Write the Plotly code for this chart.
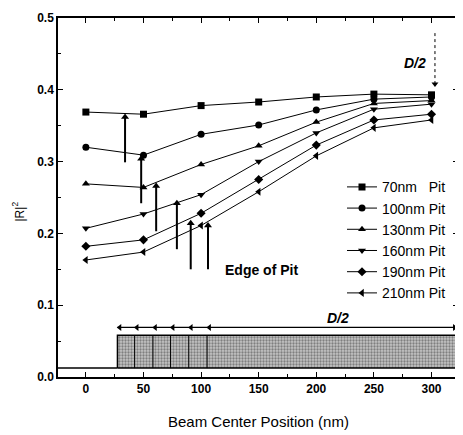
import plotly.graph_objects as go

# ---- data ----
positions = [0, 50, 100, 150, 200, 250, 300]
series_names = ["70nm\u00a0\u00a0\u00a0Pit", "100nm Pit", "130nm Pit", "160nm Pit", "190nm Pit", "210nm Pit"]
r70 = [0.369, 0.366, 0.378, 0.383, 0.390, 0.394, 0.393]
r100 = [0.320, 0.309, 0.338, 0.351, 0.372, 0.387, 0.390]
r130 = [0.269, 0.264, 0.296, 0.322, 0.355, 0.381, 0.385]
r160 = [0.207, 0.227, 0.254, 0.300, 0.340, 0.373, 0.380]
r190 = [0.182, 0.191, 0.228, 0.275, 0.323, 0.358, 0.366]
r210 = [0.163, 0.174, 0.211, 0.258, 0.308, 0.347, 0.358]
symbols = ["square", "circle", "triangle-up", "triangle-down", "diamond", "triangle-left"]

x_ticks = [0, 50, 100, 150, 200, 250, 300]
y_ticks = [0.0, 0.1, 0.2, 0.3, 0.4, 0.5]

# edge-of-pit arrows: x, tail y, head y
edge_x = [34, 48, 61, 79, 91, 106]
edge_tail = [0.299, 0.242, 0.203, 0.178, 0.150, 0.150]
edge_head = [0.362, 0.304, 0.266, 0.242, 0.214, 0.211]

# pit diagram
pit_edges = [27.4, 42.3, 58.2, 73.5, 89.3, 105.2]
pit_bottom = 0.0124
pit_top = 0.058
d2_arrow_y = 0.069
x_min, x_max = -24.2, 323

# top D/2 marker line
d2_top_x = 303
d2_top_y = [0.479, 0.408]

font_family = "Liberation Sans, Arial"

fig = go.Figure()

# pit rectangle
fig.add_trace(go.Scatter(
    x=[pit_edges[0], x_max, x_max, pit_edges[0], pit_edges[0]],
    y=[pit_bottom, pit_bottom, pit_top, pit_top, pit_bottom],
    mode="lines", fill="toself",
    fillcolor="#b0b0b0",
    fillpattern=dict(shape=".", fgcolor="#3a3a3a", bgcolor="#c4c4c4", size=3, solidity=0.45),
    line=dict(color="black", width=1.5), showlegend=False, hoverinfo="skip"))

all_series = [r70, r100, r130, r160, r190, r210]
for name, vals, sym in zip(series_names, all_series, symbols):
    fig.add_trace(go.Scatter(
        x=positions, y=vals, mode="lines+markers", name=name,
        line=dict(color="black", width=1),
        marker=dict(symbol=sym, size=7, color="black")))

# edge-of-pit arrows (shafts + heads)
ex, ey = [], []
for xe, yt, yh in zip(edge_x, edge_tail, edge_head):
    ex += [xe, xe, None]
    ey += [yt, yh, None]
fig.add_trace(go.Scatter(x=ex, y=ey, mode="lines", line=dict(color="black", width=2),
                         showlegend=False, hoverinfo="skip"))
fig.add_trace(go.Scatter(x=edge_x, y=edge_head, mode="markers",
                         marker=dict(symbol="triangle-up", size=7, color="black"),
                         showlegend=False, hoverinfo="skip"))

# D/2 bottom arrow line with heads
fig.add_trace(go.Scatter(x=[pit_edges[0], x_max], y=[d2_arrow_y, d2_arrow_y], mode="lines",
                         line=dict(color="black", width=1.2), showlegend=False, hoverinfo="skip"))
fig.add_trace(go.Scatter(x=[e + 2 for e in pit_edges], y=[d2_arrow_y] * len(pit_edges), mode="markers",
                         marker=dict(symbol="triangle-left", size=6, color="black"),
                         showlegend=False, hoverinfo="skip"))
fig.add_trace(go.Scatter(x=[x_max - 3], y=[d2_arrow_y], mode="markers",
                         marker=dict(symbol="triangle-right", size=6, color="black"),
                         showlegend=False, hoverinfo="skip"))

# top D/2 dotted line with head
fig.add_trace(go.Scatter(x=[d2_top_x, d2_top_x], y=d2_top_y, mode="lines",
                         line=dict(color="black", width=1, dash="dot"), showlegend=False, hoverinfo="skip"))
fig.add_trace(go.Scatter(x=[d2_top_x], y=[d2_top_y[1]], mode="markers",
                         marker=dict(symbol="triangle-down", size=6, color="black"),
                         showlegend=False, hoverinfo="skip"))

shapes = []
# baseline
shapes.append(dict(type="line", xref="x", yref="y", x0=x_min, x1=pit_edges[0],
                   y0=pit_bottom, y1=pit_bottom, line=dict(color="black", width=1.5)))
# dividers in pit
for e in pit_edges[1:]:
    shapes.append(dict(type="line", xref="x", yref="y", x0=e, x1=e, y0=pit_bottom, y1=pit_top,
                       line=dict(color="black", width=1)))

annotations = []
bold = dict(family=font_family, size=14, color="black", weight="bold")
annotations.append(dict(x=152, y=0.149, xref="x", yref="y", text="Edge of Pit", showarrow=False,
                        xanchor="center", yanchor="middle", font=bold))
annotations.append(dict(x=286, y=0.438, xref="x", yref="y", text="<i>D/2</i>", showarrow=False,
                        xanchor="center", yanchor="middle", font=bold))
annotations.append(dict(x=219, y=0.0815, xref="x", yref="y", text="<i>D/2</i>", showarrow=False,
                        xanchor="center", yanchor="middle", font=bold))
# axis titles
annotations.append(dict(x=-0.100, y=0.461, xref="paper", yref="paper", text="|R|<sup>2</sup>",
                        textangle=-90, showarrow=False, xanchor="center", yanchor="middle",
                        font=dict(family=font_family, size=12, color="black")))
annotations.append(dict(x=0.5, y=-0.124, xref="paper", yref="paper", text="Beam Center Position (nm)",
                        showarrow=False, xanchor="center", yanchor="middle",
                        font=dict(family=font_family, size=15, color="black")))

axis_common = dict(showgrid=False, zeroline=False, showline=True, linecolor="black", linewidth=1.5,
                   mirror="ticks", ticks="inside", ticklen=5, tickwidth=1.2, tickcolor="black",
                   tickfont=dict(family=font_family, size=12, color="black", weight="bold"))

fig.update_layout(
    width=455, height=427,
    margin=dict(l=50, r=3, t=7, b=58),
    paper_bgcolor="white", plot_bgcolor="white",
    shapes=shapes, annotations=annotations,
    xaxis=dict(range=[x_min, x_max], tickvals=x_ticks,
               minor=dict(dtick=25, tick0=0, ticks="inside", ticklen=3, tickcolor="black"),
               **axis_common),
    yaxis=dict(range=[0, 0.5], tickvals=y_ticks, tickformat=".1f",
               minor=dict(dtick=0.05, tick0=0, ticks="inside", ticklen=3, tickcolor="black"),
               **axis_common),
    legend=dict(x=0.71, y=0.573, xanchor="left", yanchor="top", bgcolor="rgba(0,0,0,0)",
                font=dict(family=font_family, size=14, color="black"),
                itemwidth=30, tracegroupgap=0),
    showlegend=True,
)

fig.write_html("out.html")
